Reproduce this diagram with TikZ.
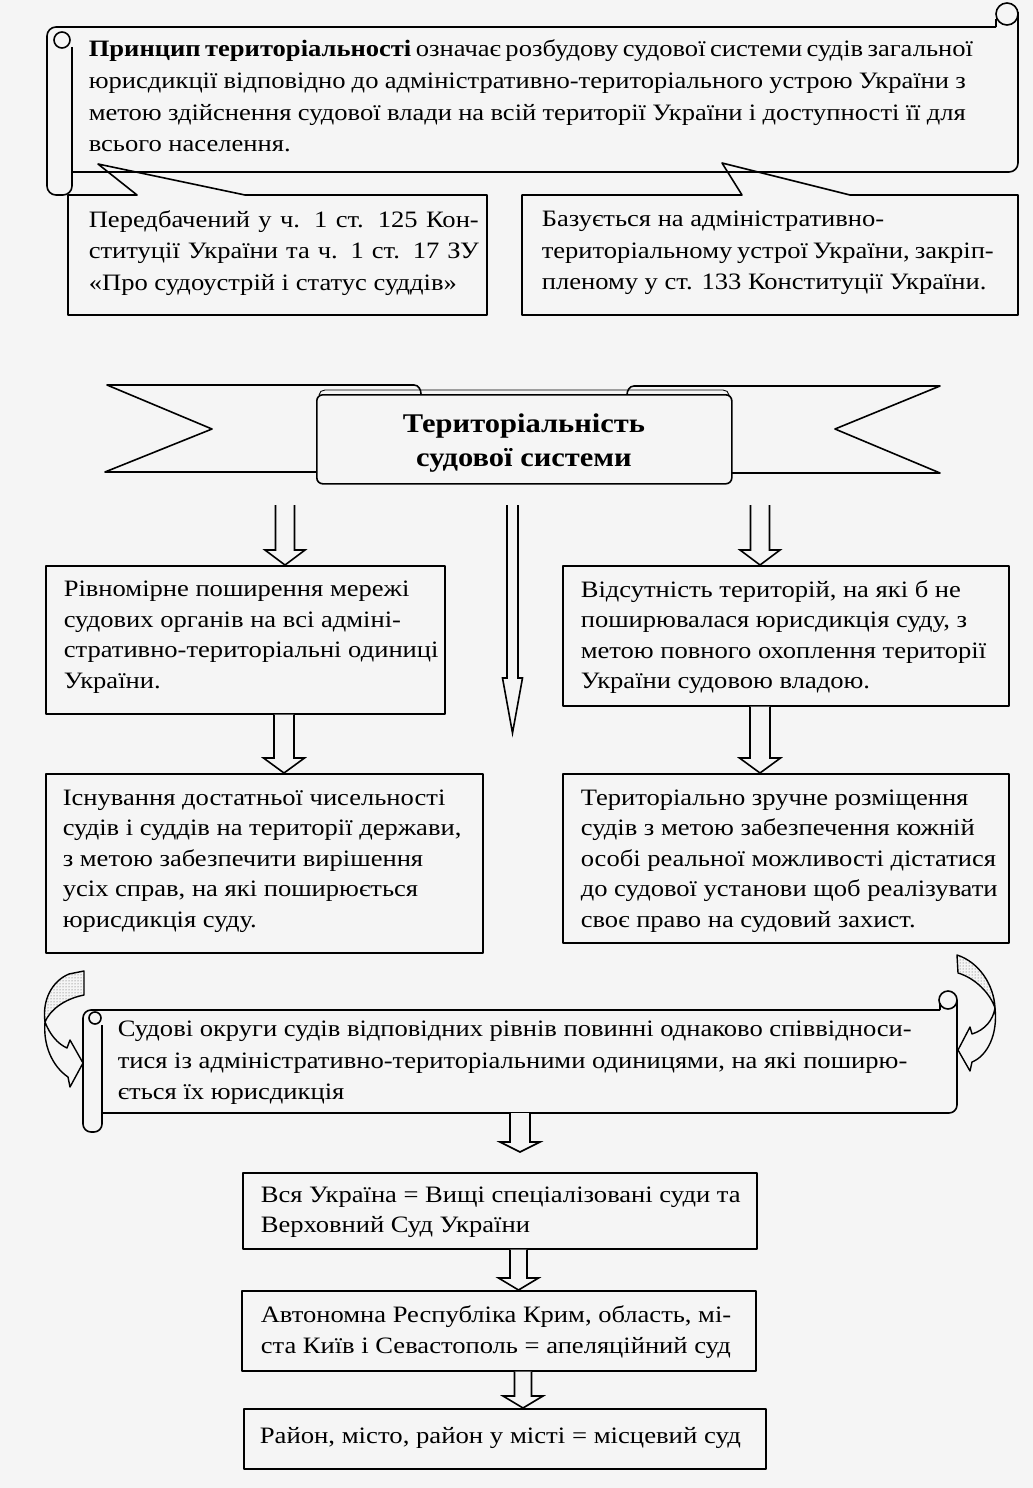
\documentclass[tikz,border=0pt]{standalone}
\usepackage{fontspec}
\usepackage{graphicx}
\setmainfont{Liberation Serif}[FakeStretch=1.13]
\usetikzlibrary{calc,patterns}
\definecolor{bg}{RGB}{245,245,245}
\newcommand\fs{\fontsize{23.5}{30.5}\selectfont}
\newcommand\fst{\fontsize{23.5}{31.6}\selectfont}
\newcommand\fsb{\fontsize{27}{34}\selectfont\bfseries}
\newcommand\jl[2]{\makebox[#1][s]{#2}}
\newcommand\hollowdown[5]{%
 \draw[barrow] let \p1=#1, \p2=#2 in (\x1-#3pt,\y1) -- (\x1-#3pt,\y2+#5pt) -- (\x1-#4pt,\y2+#5pt) -- (\x1,\y2) -- (\x1+#4pt,\y2+#5pt) -- (\x1+#3pt,\y2+#5pt) -- (\x1+#3pt,\y1);}
\begin{document}
\begin{tikzpicture}[x=1pt,y=-1pt, line width=1.6pt, line join=round,
  frame/.style={draw, line width=1.6pt, inner sep=0pt, anchor=north west},
  txt/.style={inner sep=0pt, align=left, font=\fs},
  barrow/.style={draw, line width=1.6pt, fill=bg, line join=miter},
  dotpart/.style={draw, line width=1.4pt, pattern=dots, pattern color=black!70},
  whitepart/.style={draw, line width=1.4pt, fill=bg}]
\fill[bg] (0,0) rectangle (1033,1488);
\useasboundingbox (0,0) rectangle (1033,1488);

% ---------- top scroll ----------
\draw[rounded corners=9] (72,172) -- (72,195) -- (47,195) -- (47,27) -- (996,27);
\draw (72,47) -- (72,172);
\draw (62,40) circle (8);
\draw[rounded corners=9] (72,172) -- (1018,172) -- (1018,12);
\draw (1007,14) circle (11);
\draw (996,27) -- (996,19);
\node[txt, font=\fst, anchor=west] (principle) at (88,96) {%
\jl{877pt}{\textbf{Принцип територіальності} означає розбудову судової системи судів загальної}\\
\jl{877pt}{юрисдикції відповідно до адміністративно-територіального устрою України з}\\
\jl{877pt}{метою здійснення судової влади на всій території України і доступності її для}\\
всього населення.};

% ---------- callouts ----------
\draw (68,195) -- (137,195) -- (98,164) -- (245,195) -- (487,195) -- (487,315) -- (68,315) -- cycle;
\node[txt, font=\fst, anchor=west] (legal) at (88,253) {%
\jl{390pt}{Передбачений у ч. 1 ст. 125 Кон-}\\
\jl{390pt}{ституції України та ч. 1 ст. 17 ЗУ}\\
«Про судоустрій і статус суддів»};
\draw (522,195) -- (742,195) -- (722,163) -- (850,195) -- (1018,195) -- (1018,315) -- (522,315) -- cycle;
\node[txt, font=\fst, anchor=west] (basis) at (541,253) {%
Базується на адміністративно-\\
\jl{452pt}{територіальному устрої України, закріп-}\\
пленому у ст. 133 Конституції України.};

% ---------- banner ----------
\draw (316,472) -- (105,472) -- (212,429) -- (107,385) -- (414,385) to[out=0,in=90] (421,394);
\draw (731,473) -- (940,473) -- (835,429) -- (940,386) -- (634,386) to[out=180,in=90] (627,395);
\node[draw, fill=bg, rounded corners=6, minimum width=415, minimum height=89, anchor=north west] (banner) at (316,394) {};
\draw[line width=0.9pt] (319,395) to[out=90,in=180] (325,390) -- (723,390) to[out=0,in=90] (729,395);
\node[inner sep=0pt, align=center, font=\fsb] (bannertxt) at (524,443) {Територіальність\\судової системи};

% ---------- boxes ----------
\node[frame, minimum width=399, minimum height=148] (b1) at (45,565) {};
\node[txt, anchor=west] (b1t) at (63,637) {%
Рівномірне поширення мережі\\
судових органів на всі адміні-\\
стративно-територіальні одиниці\\
України.};
\node[frame, minimum width=446, minimum height=140] (b2) at (562,565) {};
\node[txt, anchor=west] (b2t) at (580,637) {%
Відсутність територій, на які б не\\
поширювалася юрисдикція суду, з\\
метою повного охоплення території\\
України судовою владою.};
\node[frame, minimum width=437, minimum height=179] (b3) at (45,773) {};
\node[txt, anchor=west] (b3t) at (62,861) {%
Існування достатньої чисельності\\
судів і суддів на території держави,\\
з метою забезпечити вирішення\\
усіх справ, на які поширюється\\
юрисдикція суду.};
\node[frame, minimum width=446, minimum height=169] (b4) at (562,773) {};
\node[txt, anchor=west] (b4t) at (580,861) {%
Територіально зручне розміщення\\
судів з метою забезпечення кожній\\
особі реальної можливості дістатися\\
до судової установи щоб реалізувати\\
своє право на судовий захист.};

% ---------- arrows (upper) ----------
\coordinate (a1top) at (285,505);
\coordinate (amtop) at (512.5,505);
\coordinate (amtip) at (512.5,733);
\coordinate (a2top) at (760,505);
\hollowdown{(a1top)}{(b1.north -| a1top)}{9.5}{20}{15}
\hollowdown{(amtop)}{(amtip)}{5.5}{10}{55}
\hollowdown{(a2top)}{(b2.north -| a2top)}{9.5}{20}{15}
\coordinate (a3x) at (284,0);
\coordinate (a4x) at (760,0);
\hollowdown{(b1.south -| a3x)}{(b3.north -| a3x)}{10}{20.5}{15}
\hollowdown{(b2.south -| a4x)}{(b4.north -| a4x)}{10}{20.5}{15}

% ---------- curved arrows ----------
\draw[dotpart] (69,974) -- (84,971) -- (84,995) .. controls (64,999) and (50,1010) .. (45,1022) .. controls (42,1000) and (52,981) .. (69,974) -- cycle;
\draw[whitepart] (45,1022) .. controls (50,1035) and (58,1044) .. (67,1048) -- (70,1040) -- (83,1063) -- (70,1087) -- (68,1077) .. controls (52,1066) and (43,1045) .. (45,1022) -- cycle;
\draw[dotpart] (957,955) -- (958,973) .. controls (975,978) and (990,993) .. (995,1008) .. controls (994,985) and (979,962) .. (957,955) -- cycle;
\draw[whitepart] (995,1008) .. controls (998,1035) and (987,1056) .. (972,1062) -- (970,1071) -- (958,1050) -- (970,1027) -- (972,1034) .. controls (985,1030) and (993,1020) .. (995,1008) -- cycle;

% ---------- bottom scroll ----------
\draw[rounded corners=8] (102,1113) -- (102,1132) -- (83,1132) -- (83,1010) -- (940,1010);
\draw (102,1025) -- (102,1113);
\draw (95,1018) circle (6);
\draw[rounded corners=8] (102,1113) -- (957,1113) -- (957,1000);
\draw (948,1000) circle (9);
\draw (940,1010) -- (940,1003);
\node[txt, font=\fst, anchor=west] (districts) at (117,1063) {%
Судові округи судів відповідних рівнів повинні однаково співвідноси-\\
тися із адміністративно-територіальними одиницями, на які поширю-\\
ється їх юрисдикція};

% ---------- lower chain ----------
\node[frame, minimum width=514, minimum height=76] (b5) at (242,1172) {};
\node[txt, anchor=west] (b5t) at (260,1212) {%
Вся Україна = Вищі спеціалізовані суди та\\
Верховний Суд України};
\node[frame, minimum width=514, minimum height=80] (b6) at (241,1290) {};
\node[txt, anchor=west] (b6t) at (260,1332) {%
Автономна Республіка Крим, область, мі-\\
ста Київ і Севастополь = апеляційний суд};
\node[frame, minimum width=522, minimum height=60] (b7) at (243,1408) {};
\node[txt, anchor=west] (b7t) at (259,1438) {\resizebox{481pt}{\height}{Район, місто, район у місті = місцевий суд}};

\coordinate (a5top) at (520,1113);
\coordinate (a5tip) at (520,1152);
\hollowdown{(a5top)}{(a5tip)}{10}{20}{10}
\coordinate (a6x) at (518.5,0);
\coordinate (a7x) at (523,0);
\hollowdown{(b5.south -| a6x)}{(b6.north -| a6x)}{8.5}{20}{12}
\hollowdown{(b6.south -| a7x)}{(b7.north -| a7x)}{8.5}{20}{12}
\end{tikzpicture}
\end{document}
